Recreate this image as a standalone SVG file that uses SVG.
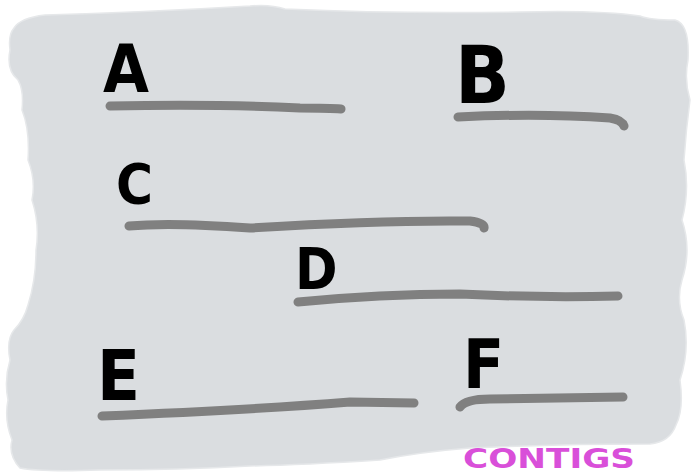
<svg xmlns="http://www.w3.org/2000/svg" width="692" height="476" viewBox="0 0 692 476">
<style>
.blob{fill:#dadde0;stroke:#e6e8ea;stroke-width:1.5}
.line{fill:none;stroke:#808080;stroke-width:9;stroke-linecap:round;stroke-linejoin:round}
.lbl{font-family:"DejaVu Sans Condensed","DejaVu Sans","Liberation Sans",sans-serif;font-weight:bold;fill:#000}
.mag{font-family:"DejaVu Sans Condensed","DejaVu Sans","Liberation Sans",sans-serif;font-weight:bold;fill:#d94fd9}
</style>
<rect width="692" height="476" fill="#ffffff"/>
<g id="background">
<path class="blob" d="M14,28 Q20,18 45,15 Q150,12 250,6 Q270,4 285,9 Q400,14 520,12 Q600,10 640,16 Q650,20 675,20 Q690,24 688,60 Q684,80 690,100 Q686,130 684,160 Q690,190 682,220 Q692,250 682,280 Q676,300 684,320 Q690,350 680,380 Q684,410 676,425 Q670,442 650,444 Q560,444 470,448 Q420,452 380,460 Q300,465 250,466 Q180,470 100,470 Q40,472 20,468 Q8,455 12,440 Q4,420 8,400 Q4,380 10,360 Q6,340 14,330 Q24,320 28,305 Q36,280 36,250 Q40,225 32,200 Q36,180 28,160 Q30,130 22,110 Q24,90 18,80 Q6,70 10,50 Q8,35 14,28 Z"/>
</g>
<g id="connectors">
<path class="line" d="M110,106 Q220,104 300,108 Q330,108 341,109"/>
<path class="line" d="M458,117 Q540,113 610,118 Q622,120 624,126"/>
<path class="line" d="M129,226 Q170,222 250,228 Q380,220 470,221 Q485,223 484,228"/>
<path class="line" d="M298,302 Q380,294 460,294 Q540,298 618,296"/>
<path class="line" d="M102,416 Q250,410 350,402 L414,403"/>
<path class="line" d="M460,407 Q466,399 490,399 L623,397"/>
</g>
<g id="node-A"><text class="lbl" x="103" y="92" font-size="66">A</text></g>
<g id="node-B"><text class="lbl" x="455" y="103" font-size="80">B</text></g>
<g id="node-C"><text class="lbl" x="116" y="203" font-size="56">C</text></g>
<g id="node-D"><text class="lbl" x="295" y="289" font-size="57">D</text></g>
<g id="node-E"><text class="lbl" x="97" y="400" font-size="70">E</text></g>
<g id="node-F"><text class="lbl" x="463" y="388" font-size="67">F</text></g>
<g id="title"><text class="mag" x="463" y="468" font-size="26" textLength="172" lengthAdjust="spacingAndGlyphs">CONTIGS</text></g>
</svg>
